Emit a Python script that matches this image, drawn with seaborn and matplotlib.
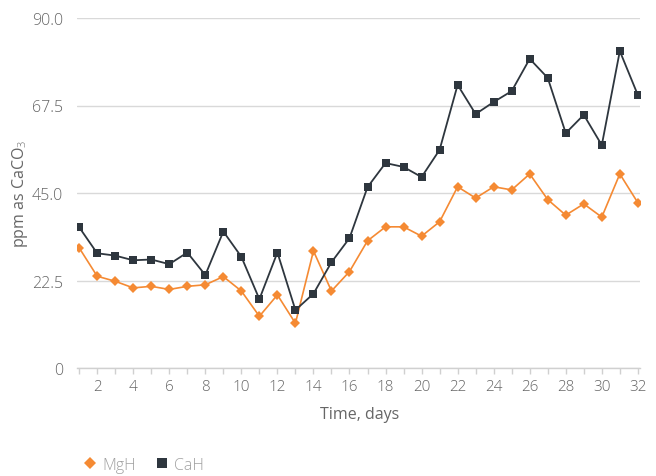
import matplotlib
matplotlib.use("Agg")
import matplotlib.pyplot as plt
import seaborn as sns
import pandas as pd
from matplotlib.lines import Line2D

days = list(range(1, 33))
mgh = [30.9, 23.6, 22.3, 20.6, 21.0, 20.2, 21.0, 21.4, 23.5, 19.8, 13.3, 18.8, 11.5, 30.1, 19.8, 24.8,
       32.7, 36.3, 36.3, 33.9, 37.6, 46.6, 43.7, 46.6, 45.8, 49.9, 43.3, 39.3, 42.2, 38.8, 49.9, 42.5]
cah = [36.2, 29.5, 28.9, 27.7, 27.9, 26.7, 29.7, 23.9, 35.1, 28.6, 17.7, 29.7, 14.9, 19.1, 27.2, 33.4,
       46.5, 52.7, 51.7, 49.1, 56.1, 72.8, 65.3, 68.4, 71.2, 79.5, 74.6, 60.4, 65.1, 57.3, 81.5, 70.2]
series_names = ["MgH", "CaH"]
y_ticks = [0, 22.5, 45.0, 67.5, 90.0]
y_tick_labels = ["0", "22.5", "45.0", "67.5", "90.0"]

df = pd.DataFrame({"day": days * 2,
                   "value": mgh + cah,
                   "series": [series_names[0]] * len(days) + [series_names[1]] * len(days)})

sns.set_theme(style="white")
plt.rcParams['font.family'] = ['Open Sans', 'DejaVu Sans']
plt.rcParams['font.weight'] = 300
plt.rcParams['mathtext.fontset'] = 'custom'
plt.rcParams['mathtext.rm'] = 'Open Sans:light'

colors = {"MgH": "#F58A33", "CaH": "#2E363E"}
markers = {"MgH": "D", "CaH": "s"}
sizes = {"MgH": 5, "CaH": 6}
widths = {"MgH": 1.2, "CaH": 1.3}
txt = "#666666"
fs = 11.5

fig = plt.figure(figsize=(6.56, 4.77), dpi=100)
ax = fig.add_axes([77/656, 1 - 369/477, (640 - 77)/656, (369 - 19)/477])

for name in series_names:
    sub = df[df["series"] == name]
    sns.lineplot(data=sub, x="day", y="value", ax=ax, color=colors[name], marker=markers[name],
                 markersize=sizes[name], markeredgewidth=0, linewidth=widths[name], legend=False)

ax.set_xlim(0.88, 32.12)
ax.set_ylim(0, 90)
ax.set_yticks(y_ticks)
ax.set_yticklabels(y_tick_labels)
ax.set_xticks(range(1, 33))
ax.set_xticklabels([str(d) if d % 2 == 0 else "" for d in range(1, 33)])
ax.yaxis.grid(True, color="#D9D9D9", linewidth=1)
ax.set_axisbelow(True)
for s in ["top", "right", "left"]:
    ax.spines[s].set_visible(False)
ax.spines["bottom"].set_color("#D0D0D0")
ax.spines["bottom"].set_linewidth(1)
ax.tick_params(axis="x", bottom=True, length=4, width=1, color="#D0D0D0", labelsize=fs - 0.5,
               labelcolor=txt, pad=4)
ax.tick_params(axis="y", left=False, labelsize=fs, labelcolor=txt, pad=4)
ax.set_xlabel("Time, days", fontsize=fs, color=txt)
ax.set_ylabel("ppm as CaCO$_3$", fontsize=fs, color=txt)
ax.xaxis.set_label_coords((360 - 77) / 563, -(415 - 369) / 350, transform=ax.transAxes)
ax.xaxis.label.set_va("center")
ax.yaxis.set_label_coords(-(77 - 20) / 563, 0.5, transform=ax.transAxes)
ax.yaxis.label.set_va("center")

handles = [Line2D([], [], color=colors[n], marker=markers[n], linestyle="None",
                  markersize=sizes[n] + 1.5, markeredgewidth=0) for n in series_names]
leg = fig.legend(handles, series_names, loc="center left", bbox_to_anchor=(72/656, 1 - 466/477),
                 ncol=2, frameon=False, fontsize=fs, handletextpad=0.2, columnspacing=1.0,
                 handlelength=1.2, borderpad=0)
for t in leg.get_texts():
    t.set_color("#A0A0A0")

fig.savefig("out.png", dpi=100)
